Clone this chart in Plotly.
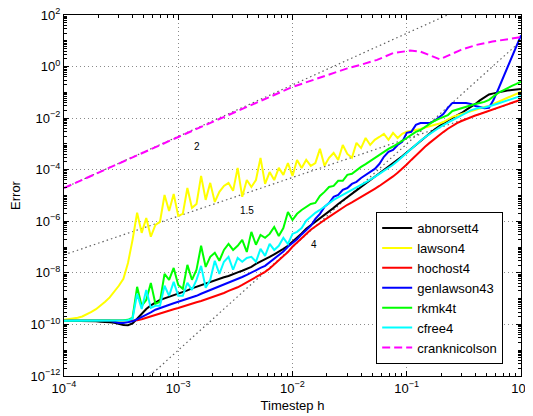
import math
import plotly.graph_objects as go

# ---- timestep grid (shared by all solver series) ----
H = [
    1.000e-4, 1.096e-4, 1.202e-4, 1.318e-4, 1.445e-4, 1.585e-4, 1.738e-4, 1.905e-4, 2.089e-4, 2.291e-4,
    2.512e-4, 2.754e-4, 3.020e-4, 3.311e-4, 3.631e-4, 3.981e-4, 4.365e-4, 4.786e-4, 5.248e-4, 5.754e-4,
    6.310e-4, 6.918e-4, 7.586e-4, 8.318e-4, 9.120e-4,
    1.000e-3, 1.096e-3, 1.202e-3, 1.318e-3, 1.445e-3, 1.585e-3, 1.738e-3, 1.905e-3, 2.089e-3, 2.291e-3,
    2.512e-3, 2.754e-3, 3.020e-3, 3.311e-3, 3.631e-3, 3.981e-3, 4.365e-3, 4.786e-3, 5.248e-3, 5.754e-3,
    6.310e-3, 6.918e-3, 7.586e-3, 8.318e-3, 9.120e-3,
    1.000e-2, 1.096e-2, 1.202e-2, 1.318e-2, 1.445e-2, 1.585e-2, 1.738e-2, 1.905e-2, 2.089e-2, 2.291e-2,
    2.512e-2, 2.754e-2, 3.020e-2, 3.311e-2, 3.631e-2, 3.981e-2, 4.365e-2, 4.786e-2, 5.248e-2, 5.754e-2,
    6.310e-2, 6.918e-2, 7.586e-2, 8.318e-2, 9.120e-2,
    1.000e-1, 1.096e-1, 1.202e-1, 1.318e-1, 1.445e-1, 1.585e-1, 1.738e-1, 1.905e-1, 2.089e-1, 2.291e-1,
    2.512e-1, 2.754e-1, 3.020e-1, 3.311e-1, 3.631e-1, 3.981e-1, 4.365e-1, 4.786e-1, 5.248e-1, 5.754e-1,
    6.310e-1, 6.918e-1, 7.586e-1, 8.318e-1, 9.120e-1,
    1.0,
]

# ---- errors, stored as log10(error) ----
abnorsett4_log10 = [
    -9.86, -9.86, -9.86, -9.86, -9.86, -9.86, -9.88, -9.88, -9.90, -9.90,
    -9.92, -9.94, -9.98, -10.02, -10.03, -9.96, -9.78, -9.57, -9.40, -9.26,
    -9.14, -9.05, -8.99, -8.93, -8.87, -8.81, -8.76, -8.68, -8.60, -8.54,
    -8.48, -8.41, -8.33, -8.27, -8.23, -8.17, -8.12, -8.04, -7.98, -7.92,
    -7.84, -7.77, -7.65, -7.57, -7.48, -7.38, -7.28, -7.19, -7.07, -6.95,
    -6.80, -6.64, -6.47, -6.29, -6.16, -6.02, -5.89, -5.75, -5.62, -5.48,
    -5.33, -5.19, -5.06, -4.93, -4.80, -4.67, -4.54, -4.41, -4.28, -4.15,
    -4.02, -3.89, -3.76, -3.62, -3.48, -3.33, -3.18, -3.03, -2.88, -2.73,
    -2.58, -2.45, -2.33, -2.20, -2.09, -1.99, -1.90, -1.80, -1.68, -1.57,
    -1.45, -1.31, -1.18, -1.08, -1.04, -1.00, -0.97, -0.93, -0.91, -0.89,
    -0.87,
]

lawson4_log10 = [
    -9.82, -9.80, -9.78, -9.74, -9.69, -9.61, -9.51, -9.41, -9.28, -9.12,
    -8.95, -8.74, -8.50, -8.23, -7.62, -6.72, -5.67, -6.45, -5.87, -6.60,
    -6.14, -6.02, -4.98, -5.60, -4.94, -5.79, -5.71, -4.71, -5.48, -5.33,
    -4.24, -5.17, -4.51, -5.25, -4.86, -4.63, -4.51, -4.82, -3.93, -5.05,
    -4.40, -4.67, -4.40, -3.54, -4.55, -4.09, -4.40, -3.93, -4.20, -3.74,
    -4.24, -3.62, -3.93, -3.62, -3.85, -3.74, -3.19, -3.85, -3.54, -3.35,
    -3.62, -3.04, -3.39, -3.54, -2.96, -3.16, -2.77, -3.04, -2.84, -2.73,
    -2.61, -2.84, -2.57, -2.77, -2.61, -2.53, -2.50, -2.46, -2.42, -2.36,
    -2.32, -2.28, -2.22, -2.15, -2.05, -1.95, -1.90, -1.84, -1.80, -1.74,
    -1.68, -1.62, -1.57, -1.53, -1.45, -1.37, -1.29, -1.22, -1.14, -1.06,
    -0.98,
]

hochost4_log10 = [
    -9.86, -9.86, -9.86, -9.86, -9.86, -9.86, -9.86, -9.86, -9.86, -9.86,
    -9.86, -9.86, -9.86, -9.86, -9.86, -9.86,
    -9.84, -9.80, -9.74, -9.69, -9.63, -9.59, -9.53, -9.47, -9.41, -9.36,
    -9.30, -9.24, -9.18, -9.14, -9.09, -9.03, -8.97, -8.91, -8.85, -8.78,
    -8.70, -8.64, -8.56, -8.47, -8.37, -8.27, -8.17, -8.08, -7.96, -7.83,
    -7.67, -7.52, -7.36, -7.19, -6.99, -6.82, -6.64, -6.47, -6.33, -6.20,
    -6.06, -5.95, -5.83, -5.71, -5.60, -5.48, -5.36, -5.27, -5.17, -5.05,
    -4.96, -4.86, -4.74, -4.63, -4.51, -4.40, -4.26, -4.12, -3.97, -3.80,
    -3.62, -3.44, -3.27, -3.11, -2.96, -2.81, -2.67, -2.54, -2.41, -2.29,
    -2.19, -2.11, -2.03, -1.95, -1.90, -1.84, -1.78, -1.72, -1.66, -1.60,
    -1.53, -1.47, -1.39, -1.33, -1.28,
]

genlawson43_log10 = [
    -9.86, -9.86, -9.86, -9.86, -9.86, -9.86, -9.86, -9.86, -9.86, -9.86,
    -9.86,
    -9.90, -9.94, -9.94, -9.92, -9.88, -9.80, -9.72, -9.63, -9.53, -9.43,
    -9.36, -9.30, -9.24, -9.18, -9.12, -9.07, -9.01, -8.95, -8.89, -8.81,
    -8.74, -8.66, -8.60, -8.52, -8.45, -8.39, -8.31, -8.23, -8.16, -8.08,
    -7.98, -7.90, -7.81, -7.73, -7.59, -7.44, -7.30, -7.17, -6.99, -6.86,
    -6.70, -6.51, -6.35, -6.18, -5.91, -5.71, -5.44, -5.29, -5.05, -4.98,
    -4.78, -4.71, -4.55, -4.47, -4.32, -4.20, -4.09, -3.97, -3.78, -3.50,
    -3.31, -3.23, -3.04, -2.92, -2.57, -2.53, -2.26, -2.19, -2.19, -2.19,
    -2.11, -1.99, -1.84, -1.60, -1.41, -1.41, -1.41, -1.41, -1.45, -1.53,
    -1.57, -1.62, -1.60, -1.29, -0.89, -0.48, -0.05, 0.37, 0.78, 1.21,
]

rkmk4t_log10 = [
    -9.86, -9.86, -9.86, -9.86, -9.86, -9.86, -9.86, -9.86, -9.86, -9.86,
    -9.86, -9.86, -9.86,
    -9.84, -9.82, -9.74, -8.54, -9.28, -9.05, -8.39, -9.20,
    -9.12, -8.04, -8.27, -7.81, -8.47, -8.62, -7.69, -8.27, -7.88, -6.95,
    -7.77, -7.38, -7.22, -7.53, -7.11, -6.88, -7.11, -6.95, -6.72, -7.19,
    -6.41, -6.91, -6.53, -6.64, -6.49, -6.22, -6.57, -6.26, -5.64, -5.95,
    -5.71, -5.56, -5.44, -5.33, -5.29, -5.02, -4.86, -4.67, -4.63, -4.43,
    -4.43, -4.20, -4.16, -4.01, -3.89, -3.78, -3.66, -3.54, -3.43, -3.31,
    -3.19, -3.10, -3.00, -2.90, -2.77, -2.65, -2.53, -2.46, -2.34, -2.21,
    -2.11, -2.03, -1.95, -1.88, -1.72, -1.66, -1.60, -1.55, -1.49, -1.45,
    -1.41, -1.37, -1.29, -1.16, -1.02, -0.93, -0.83, -0.75, -0.67, -0.58,
]

cfree4_log10 = [
    -9.86, -9.86, -9.86, -9.86, -9.86, -9.86, -9.86, -9.86, -9.86, -9.86,
    -9.86, -9.86, -9.86, -9.86,
    -9.84, -9.78, -8.81, -9.40, -8.66, -9.36, -9.28,
    -9.28, -8.50, -8.89, -8.35, -8.89, -8.89, -8.39, -8.66, -8.27, -7.73,
    -8.58, -8.27, -7.53, -8.04, -7.57, -7.38, -7.88, -7.42, -7.57, -7.42,
    -7.38, -7.57, -7.07, -7.34, -6.88, -7.11, -6.95, -6.64, -6.88, -6.49,
    -6.41, -6.26, -5.98, -5.83, -5.67, -5.56, -5.42, -5.29, -5.17, -5.07,
    -4.98, -4.88, -4.78, -4.71, -4.59, -4.49, -4.40, -4.28, -4.16, -4.05,
    -3.93, -3.81, -3.66, -3.50, -3.34, -3.18, -3.03, -2.88, -2.74, -2.61,
    -2.49, -2.38, -2.27, -2.17, -2.07, -1.97, -1.87, -1.78, -1.70, -1.64,
    -1.60, -1.59, -1.55, -1.49, -1.43, -1.37, -1.31, -1.26, -1.20, -1.14,
]

# Crank-Nicolson has its own (coarser) sampling
cranknicolson_h = [1.0e-4, 1.0e-3, 1.0e-2, 2.00e-2, 3.02e-2, 3.89e-2, 5.50e-2, 7.59e-2,
                   1.07e-1, 1.32e-1, 1.95e-1, 2.95e-1, 4.07e-1, 5.62e-1, 1.0]
cranknicolson_err = [1.95e-5, 1.86e-3, 1.62e-1, 4.68e-1, 8.51e-1, 1.148, 1.82, 3.31,
                     4.17, 3.80, 1.91, 4.37, 6.92, 9.33, 13.8]

# ---- order reference lines (slope 2, 1.5, 4) ----
ref_slope2_h = [1.0e-4, 0.2265]
ref_slope2_err = [1.95e-5, 100.0]
ref_slope15_h = [1.0e-4, 1.0]
ref_slope15_err = [5.0e-8, 5.0e-2]
ref_slope4_h = [5.62e-4, 1.0]
ref_slope4_err = [1.0e-12, 10.0]

slope_labels = ["2", "1.5", "4"]
slope_label_h = [1.46e-3, 4.0e-3, 1.55e-2]
slope_label_err = [8.3e-4, 2.6e-6, 1.3e-7]

# ---- series meta ----
series_names = ["abnorsett4", "lawson4", "hochost4", "genlawson43", "rkmk4t", "cfree4"]
series_log10 = [abnorsett4_log10, lawson4_log10, hochost4_log10,
                genlawson43_log10, rkmk4t_log10, cfree4_log10]
series_colors = ["#000000", "#ffff00", "#ff0000", "#0000ff", "#00ff00", "#00ffff"]

# ---- ticks ----
x_tickvals = [1e-4, 1e-3, 1e-2, 1e-1, 1.0]
x_ticktext = ["10<sup>\u22124</sup>", "10<sup>\u22123</sup>", "10<sup>\u22122</sup>",
              "10<sup>\u22121</sup>", "10<sup>0</sup>"]
y_tickvals = [1e-12, 1e-10, 1e-8, 1e-6, 1e-4, 1e-2, 1.0, 1e2]
y_ticktext = ["10<sup>\u221212</sup>", "10<sup>\u221210</sup>", "10<sup>\u22128</sup>",
              "10<sup>\u22126</sup>", "10<sup>\u22124</sup>", "10<sup>\u22122</sup>",
              "10<sup>0</sup>", "10<sup>2</sup>"]
x_minor = [m * 10.0 ** e for e in range(-4, 0) for m in range(2, 10)]
y_minor = [m * 10.0 ** e for e in range(-12, 2) for m in range(1, 10)]

FONT = "Liberation Sans, Arial, Helvetica, sans-serif"
REF_STYLE = dict(color="#606060", width=1.2, dash="1.5px,3px")

fig = go.Figure()

for hx, ey in [(ref_slope2_h, ref_slope2_err), (ref_slope15_h, ref_slope15_err),
               (ref_slope4_h, ref_slope4_err)]:
    fig.add_trace(go.Scatter(x=hx, y=ey, mode="lines", line=REF_STYLE,
                             showlegend=False, hoverinfo="skip"))

for name, logs, col in zip(series_names, series_log10, series_colors):
    fig.add_trace(go.Scatter(x=H, y=[10.0 ** v for v in logs], mode="lines", name=name,
                             line=dict(color=col, width=2)))

fig.add_trace(go.Scatter(x=cranknicolson_h, y=cranknicolson_err, mode="lines",
                         name="cranknicolson",
                         line=dict(color="#ff00ff", width=2, dash="8px,4px")))

for txt, hx, ey in zip(slope_labels, slope_label_h, slope_label_err):
    fig.add_annotation(x=math.log10(hx), y=math.log10(ey), text=txt, showarrow=False,
                       font=dict(family=FONT, size=10, color="black"))

axis_common = dict(
    type="log", showline=True, linecolor="black", linewidth=1, mirror="allticks",
    ticks="inside", ticklen=5, tickcolor="black", tickwidth=1,
    showgrid=True, gridcolor="#8a8a8a", gridwidth=1, griddash="1px,3px",
    zeroline=False, automargin=False, ticklabeloverflow="allow",
    tickfont=dict(family=FONT, size=13, color="black"),
)

fig.update_xaxes(**axis_common, range=[-4, 0], tickmode="array",
                 tickvals=x_tickvals, ticktext=x_ticktext,
                 minor=dict(tickmode="array", tickvals=x_minor, ticks="inside",
                            ticklen=3, tickcolor="black", showgrid=False),
                 title=dict(text="Timestep h", font=dict(family=FONT, size=13, color="black"),
                            standoff=6))
fig.update_yaxes(**axis_common, range=[-12, 2], tickmode="array",
                 tickvals=y_tickvals, ticktext=y_ticktext,
                 minor=dict(tickmode="array", tickvals=y_minor, ticks="inside",
                            ticklen=3, tickcolor="black", showgrid=False),
                 title=dict(text="Error", font=dict(family=FONT, size=13, color="black"),
                            standoff=6))

# The page adds an 8 px body margin, so the figure is sized/offset to compensate.
fig.update_layout(
    width=525, height=408,
    margin=dict(l=56, r=12, t=7, b=40),
    paper_bgcolor="white", plot_bgcolor="white",
    font=dict(family=FONT, size=13, color="black"),
    legend=dict(x=0.961, xanchor="right", y=0.033, yanchor="bottom",
                bgcolor="white", bordercolor="black", borderwidth=1,
                font=dict(family=FONT, size=13, color="black"),
                itemwidth=30, tracegroupgap=0),
    showlegend=True,
)

fig.write_html("out.html")
